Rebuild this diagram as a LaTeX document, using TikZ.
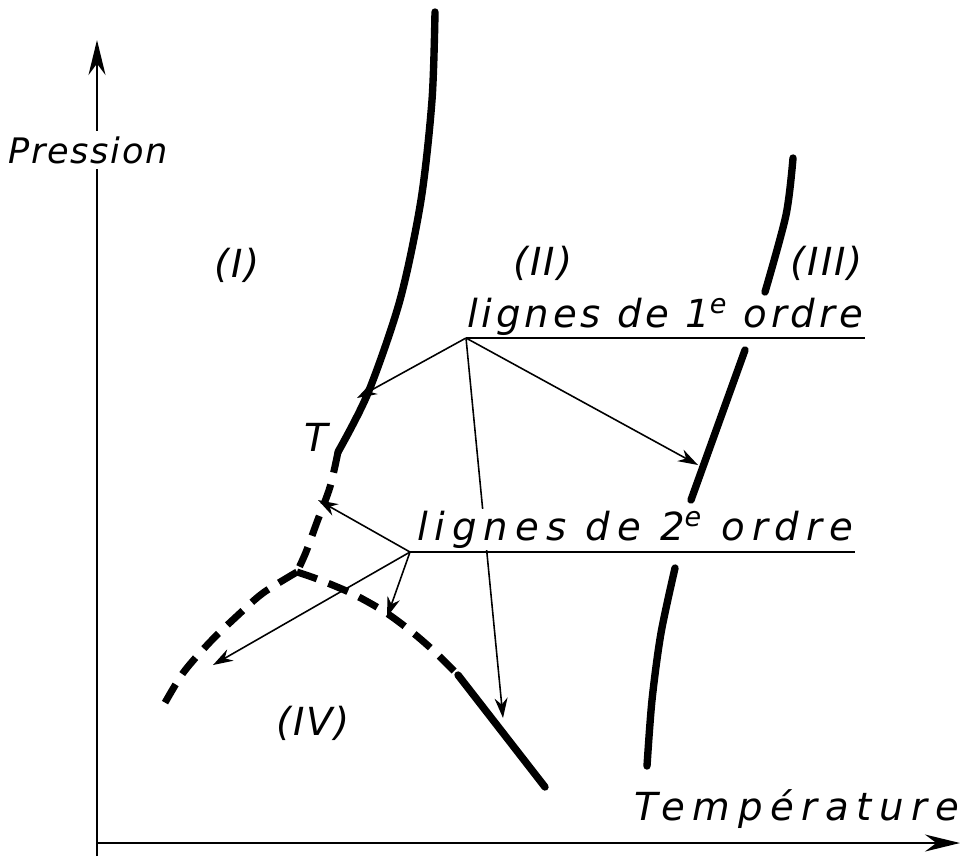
\documentclass[tikz,border=0pt]{standalone}
\usepackage{fontspec}
\setmainfont{DejaVu Sans}
\newfontfamily\handfont{DejaVu Sans}[LetterSpace=5]
\usetikzlibrary{arrows.meta}

\begin{document}
\begin{tikzpicture}[x=0.02cm, y=-0.02cm,
  curve/.style={line width=4.2pt, line cap=round},
  dashcurve/.style={line width=4pt, dash pattern=on 12pt off 7pt},
  arr/.style={-{Stealth[length=4mm, width=2.6mm]}, line width=0.9pt},
  axis/.style={-{Stealth[length=7mm, width=3.4mm]}, line width=1.4pt},
  lab/.style={font={\handfont\itshape\fontsize{22}{26}\selectfont}, inner sep=1pt},
  uline/.style={line width=1.2pt}
]
\useasboundingbox (0,0) rectangle (969,856);

% axes
\coordinate (orig) at (97,843);
\coordinate (ybot) at (97,856);
\coordinate (ytop) at (97,40);
\coordinate (xend) at (960,843);
\draw[axis] (ybot) -- (ytop);
\draw[axis] (orig) -- (xend);
\node[lab, font={\handfont\itshape\fontsize{20}{24}\selectfont}, fill=white, inner sep=3pt] (pres) at (88,150) {Pression};
\node[lab, font={\handfont\itshape\addfontfeatures{LetterSpace=20}\fontsize{22}{26}\selectfont}, anchor=base] (temp) at (797,820) {Température};

% phase lines
\draw[curve] plot[smooth] coordinates {(435,12) (432,100) (421,200) (400,300) (368,393) (338,452)};
\draw[dashcurve] plot[smooth] coordinates {(338,452) (330,487) (317,522) (306,552) (297,572)};
\draw[dashcurve] plot[smooth] coordinates {(297,572) (320,580) (353,594) (385,612) (412,632) (435,652) (458,675)};
\draw[curve] (458,675) -- (545,787);
\draw[dashcurve] plot[smooth] coordinates {(297,572) (263,593) (237,616) (210,642) (183,673) (162,708)};
\draw[curve] plot[smooth] coordinates {(793,158) (786,215) (765,292)};
\draw[curve] (745,350) -- (691,500);
\draw[curve] plot[smooth] coordinates {(675,568) (661,633) (652,700) (647,766)};

% arrow ends
\coordinate (o1) at (466,338);
\coordinate (o2) at (410,552);
\coordinate (a1) at (357,398);
\coordinate (a2) at (698,465);
\coordinate (a3) at (503,718);
\coordinate (b1) at (318,500);
\coordinate (b2) at (387,617);
\coordinate (b3) at (213,665);

\draw[arr] (o1) -- (a1);
\draw[arr] (o1) -- (a2);
\draw[arr] (o1) -- (a3);
\draw[arr] (o2) -- (b1);
\draw[arr] (o2) -- (b2);
\draw[arr] (o2) -- (b3);

% labels
\node[lab, font={\handfont\itshape\addfontfeatures{LetterSpace=10}\fontsize{22}{26}\selectfont}, anchor=base west, fill=white] (l1) at (465,327) {lignes de 1\textsuperscript{e} ordre};
\node[lab, font={\handfont\itshape\addfontfeatures{LetterSpace=18}\fontsize{22}{26}\selectfont}, anchor=base west, fill=white] (l2) at (415,540) {lignes de 2\textsuperscript{e} ordre};
\draw[uline] (o1) -- (o1 -| l1.east);
\draw[uline] (o2) -- (o2 -| l2.east);

\node[lab] (r1) at (237,265) {(I)};
\node[lab] (r2) at (543,263) {(II)};
\node[lab] (r3) at (827,263) {(III)};
\node[lab] (r4) at (313,723) {(IV)};
\node[lab] (tp) at (316,437) {T};
\end{tikzpicture}
\end{document}
